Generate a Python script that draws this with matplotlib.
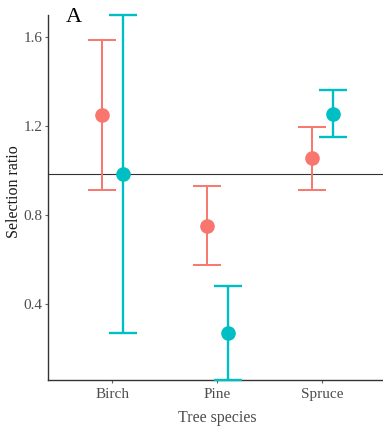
import matplotlib
matplotlib.use("Agg")
import matplotlib.pyplot as plt
import numpy as np

species = ["Birch", "Pine", "Spruce"]
red_mean = [1.25, 0.75, 1.055]
red_low = [0.914, 0.575, 0.914]
red_high = [1.588, 0.929, 1.197]
teal_mean = [0.984, 0.27, 1.254]
teal_low = [0.268, 0.06, 1.149]
teal_high = [1.70, 0.482, 1.363]
ref_line = 0.985

plt.rcParams["font.family"] = ["Liberation Serif", "DejaVu Serif"]

fig = plt.figure(figsize=(3.83, 4.34), dpi=100)
ax = fig.add_axes([48 / 383, 1 - 380 / 434, 1 - 48 / 383, (380 - 15) / 434])

x = np.arange(len(species))
dodge = 0.1
groups = [
    (red_mean, red_low, red_high, "#F8766D", -dodge, 1.4),
    (teal_mean, teal_low, teal_high, "#00BFC4", dodge, 1.7),
]
for mean, low, high, color, off, lw in groups:
    mean = np.array(mean)
    yerr = [mean - np.array(low), np.array(high) - mean]
    ax.errorbar(x + off, mean, yerr=yerr, fmt="o", color=color, ms=9.5,
                elinewidth=lw, capsize=10, capthick=lw, clip_on=False, zorder=3)

ax.axhline(ref_line, color="#333333", lw=0.8, zorder=2)

ax.set_xlim(-0.61, 2.58)
ax.set_ylim(0.058, 1.70)
ax.set_yticks([0.4, 0.8, 1.2, 1.6])
ax.set_yticklabels(["0.4", "0.8", "1.2", "1.6"])
ax.set_xticks(x)
ax.set_xticklabels(species)
for side in ["top", "right"]:
    ax.spines[side].set_visible(False)
for side in ["left", "bottom"]:
    ax.spines[side].set_color("#333333")
    ax.spines[side].set_linewidth(1.0)
ax.tick_params(colors="#666666", labelcolor="#4d4d4d", labelsize=11, length=2.5, width=0.8)
ax.tick_params(axis="y", pad=1.5)
ax.set_xlabel("Tree species", fontsize=11.5, color="#4d4d4d")
ax.set_ylabel("Selection ratio", fontsize=11.5, color="#1a1a1a")
ax.xaxis.set_label_coords((217 - 48) / 335, -(418 - 380) / 365)
ax.yaxis.set_label_coords((14 - 48) / 335, (380 - 192) / 365)
ax.xaxis.label.set_va("center")
ax.yaxis.label.set_va("center")
fig.text(66 / 383, 1 - 18 / 434, "A", fontsize=16, va="center", ha="left", color="black")

fig.savefig("out.png", dpi=100)
